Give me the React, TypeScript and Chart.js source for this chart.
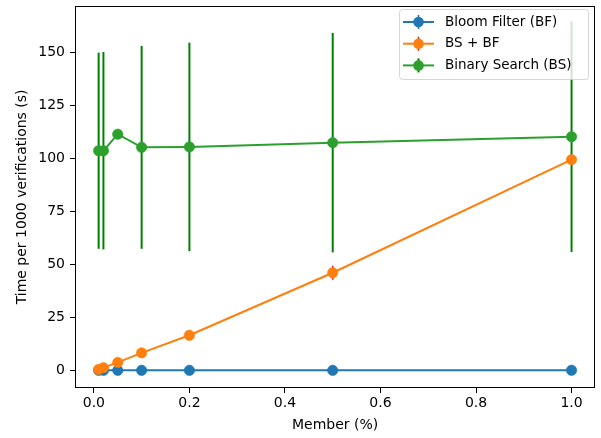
import React, { useEffect, useRef } from "react";
import { Chart, registerables } from "chart.js";

Chart.register(...registerables);

const members = [0.01, 0.02, 0.05, 0.1, 0.2, 0.5, 1.0];
const bfTime = [0.15, 0.15, 0.15, 0.15, 0.15, 0.15, 0.2];
const bfErr = [0.05, 0.05, 0.05, 0.05, 0.05, 0.05, 0.05];
const bsbfTime = [0.6, 1.4, 3.9, 8.4, 16.7, 46.2, 99.6];
const bsbfErr = [0.1, 0.2, 0.3, 0.5, 0.8, 3.3, 1.5];
const bsTime = [103.8, 103.8, 111.6, 105.4, 105.6, 107.6, 110.4];
const bsErr = [46.3, 46.6, 0, 47.9, 49.2, 51.8, 54.4];
const seriesNames = ["Bloom Filter (BF)", "BS + BF", "Binary Search (BS)"];
const xTicks = [0, 0.2, 0.4, 0.6, 0.8, 1.0];
const yTicks = [0, 25, 50, 75, 100, 125, 150];
const xLabel = "Member (%)";
const yLabel = "Time per 1000 verifications (s)";

const colors = ["#1f77b4", "#ff7f0e", "#2ca02c"];
const ecolors = ["#1f5fa8", "#e8141b", "#008000"];
const ewidths = [1.5, 1.5, 2];
const FONT = "'DejaVu Sans', sans-serif";
const FS = 14;

export default function App() {
  const ref = useRef<HTMLCanvasElement | null>(null);
  useEffect(() => {
    if (!ref.current) return;
    const errs = [bfErr, bsbfErr, bsErr];
    const mk = (ys: number[]) => members.map((x, i) => ({ x, y: ys[i] }));

    const errorBars = {
      id: "errorBars",
      beforeDatasetsDraw(chart: any) {
        const ctx = chart.ctx;
        const xs = chart.scales.x;
        const ys = chart.scales.y;
        ctx.save();
        chart.data.datasets.forEach((ds: any, di: number) => {
          ctx.strokeStyle = ecolors[di];
          ctx.lineWidth = ewidths[di];
          ds.data.forEach((p: any, i: number) => {
            const e = errs[di][i];
            if (!e) return;
            const px = xs.getPixelForValue(p.x);
            ctx.beginPath();
            ctx.moveTo(px, ys.getPixelForValue(p.y - e));
            ctx.lineTo(px, ys.getPixelForValue(p.y + e));
            ctx.stroke();
          });
        });
        ctx.restore();
      },
      afterDraw(chart: any) {
        const ctx = chart.ctx;
        const a = chart.chartArea;
        ctx.save();
        ctx.strokeStyle = "#000";
        ctx.lineWidth = 1;
        ctx.strokeRect(Math.round(a.left) + 0.5, Math.round(a.top) + 0.5, Math.round(a.right - a.left) - 1, Math.round(a.bottom - a.top) - 1);
        // legend
        const bx = 399.5, by = 9.5, bw = 189, bh = 70, r = 3;
        ctx.beginPath();
        ctx.moveTo(bx + r, by);
        ctx.lineTo(bx + bw - r, by);
        ctx.arcTo(bx + bw, by, bx + bw, by + r, r);
        ctx.lineTo(bx + bw, by + bh - r);
        ctx.arcTo(bx + bw, by + bh, bx + bw - r, by + bh, r);
        ctx.lineTo(bx + r, by + bh);
        ctx.arcTo(bx, by + bh, bx, by + bh - r, r);
        ctx.lineTo(bx, by + r);
        ctx.arcTo(bx, by, bx + r, by, r);
        ctx.closePath();
        ctx.fillStyle = "rgba(255,255,255,0.8)";
        ctx.fill();
        ctx.strokeStyle = "rgba(204,204,204,0.8)";
        ctx.lineWidth = 1;
        ctx.stroke();
        seriesNames.forEach((name, i) => {
          const cy = 22 + i * 21.7;
          ctx.strokeStyle = colors[i];
          ctx.lineWidth = 2;
          ctx.beginPath();
          ctx.moveTo(403, cy);
          ctx.lineTo(434, cy);
          ctx.stroke();
          ctx.strokeStyle = ecolors[i];
          ctx.lineWidth = ewidths[i];
          ctx.beginPath();
          ctx.moveTo(418.5, cy - 7);
          ctx.lineTo(418.5, cy + 7);
          ctx.stroke();
          ctx.fillStyle = colors[i];
          ctx.beginPath();
          ctx.arc(418.5, cy, 5.3, 0, Math.PI * 2);
          ctx.fill();
          ctx.fillStyle = "#000";
          ctx.font = `13.5px ${FONT}`;
          ctx.textBaseline = "middle";
          ctx.textAlign = "left";
          ctx.fillText(name, 445, cy);
        });
        ctx.restore();
      },
    };

    const allSeries = [bfTime, bsbfTime, bsTime];
    const chart = new Chart(ref.current, {
      type: "line",
      data: {
        datasets: allSeries.map((s, i) => ({
          label: seriesNames[i],
          data: mk(s),
          borderColor: colors[i],
          backgroundColor: colors[i],
          pointBackgroundColor: colors[i],
          pointBorderColor: colors[i],
          pointRadius: 5.2,
          pointBorderWidth: 0.6,
          borderWidth: 2,
          tension: 0,
          order: 2 - i,
        })),
      },
      options: {
        animation: false,
        responsive: false,
        layout: { padding: { top: 3, right: 5, left: 0, bottom: 0 } },
        plugins: { legend: { display: false }, tooltip: { enabled: false } },
        scales: {
          x: {
            type: "linear",
            min: -0.0395,
            max: 1.0495,
            afterBuildTicks: (s: any) => {
              s.ticks = xTicks.map((v) => ({ value: v }));
            },
            afterFit: (s: any) => {
              s.height = 50;
              s.paddingLeft = 0;
              s.paddingRight = 0;
            },
            grid: { display: true, drawOnChartArea: false, drawTicks: true, tickLength: 5, color: "#000" },
            border: { display: false },
            ticks: {
              color: "#000",
              font: { family: FONT, size: FS },
              padding: 2,
              maxRotation: 0,
              callback: (v: any) => Number(v).toFixed(1),
            },
            title: { display: true, text: xLabel, color: "#000", font: { family: FONT, size: FS }, padding: { top: 0, bottom: 4 } },
          },
          y: {
            type: "linear",
            min: -8.2,
            max: 172.2,
            afterBuildTicks: (s: any) => {
              s.ticks = yTicks.map((v) => ({ value: v }));
            },
            afterFit: (s: any) => {
              s.width = 75;
              s.paddingTop = 0;
              s.paddingBottom = 0;
            },
            grid: { display: true, drawOnChartArea: false, drawTicks: true, tickLength: 5, color: "#000" },
            border: { display: false },
            ticks: {
              color: "#000",
              font: { family: FONT, size: FS },
              padding: 5,
              callback: (v: any) => String(v),
            },
            title: { display: true, text: yLabel, color: "#000", font: { family: FONT, size: FS }, padding: { top: 14, bottom: 0 } },
          },
        },
      },
      plugins: [errorBars],
    } as any);
    return () => chart.destroy();
  }, []);
  return (
    <div style={{ position: "fixed", left: 0, top: 0, width: 601, height: 438, background: "#fff" }}>
      <canvas ref={ref} width={601} height={438} />
    </div>
  );
}
